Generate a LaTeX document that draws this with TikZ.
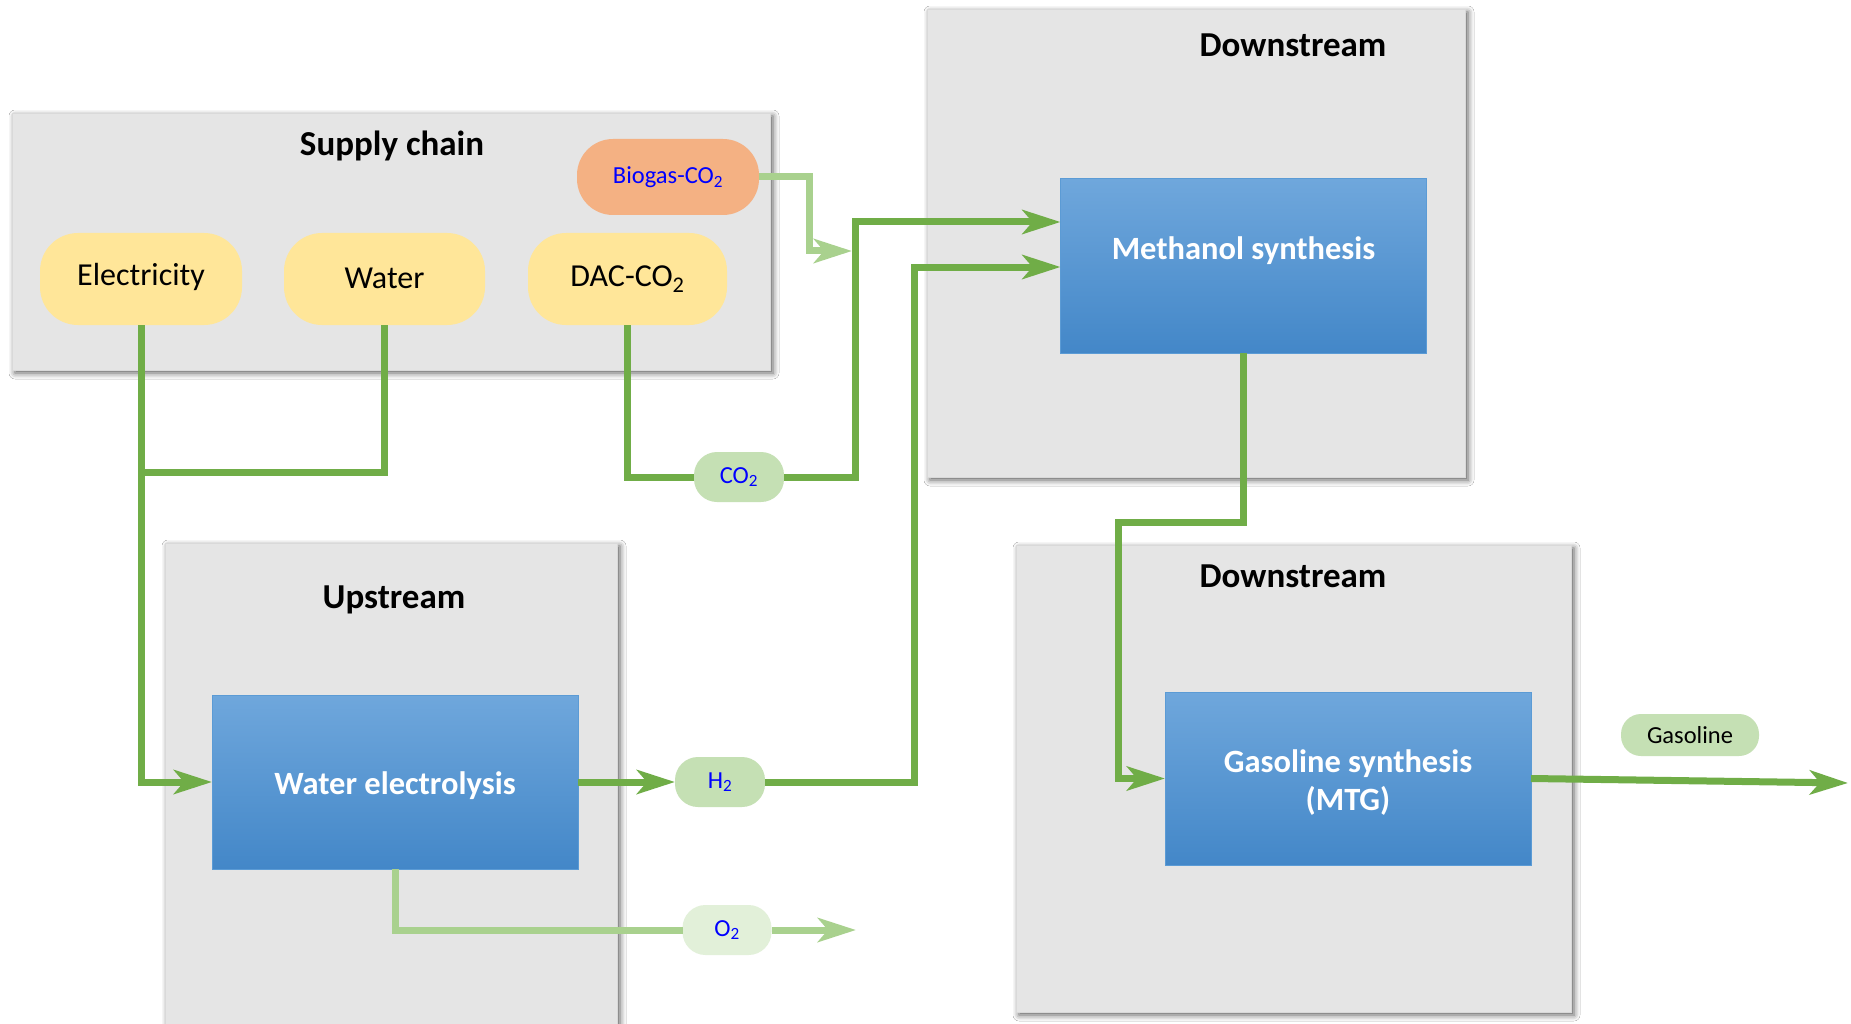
\documentclass[tikz,border=0pt]{standalone}
\usepackage{fontspec}
\setmainfont{Carlito}
\usetikzlibrary{arrows.meta,shadows.blur}
\definecolor{panel}{HTML}{E5E5E5}
\definecolor{pillY}{HTML}{FFE699}
\definecolor{pillO}{HTML}{F4B183}
\definecolor{pillG}{HTML}{C5E0B4}
\definecolor{pillL}{HTML}{E2F0D9}
\definecolor{flowD}{HTML}{70AD47}
\definecolor{flowL}{HTML}{A9D18E}
\definecolor{blueT}{HTML}{6FA7DC}
\definecolor{blueB}{HTML}{4387C8}
\definecolor{blueE}{HTML}{5B9BD5}
\definecolor{labblue}{HTML}{0000FF}
\begin{document}
\begin{tikzpicture}[x=1pt,y=-1pt,
  panelbox/.style={fill=panel, draw=gray!30, line width=0.6pt, inner sep=0pt, outer sep=0pt,
    blur shadow={shadow xshift=3pt, shadow yshift=-3pt, shadow blur radius=6pt, shadow opacity=65}},
  titletext/.style={font=\fontsize{35}{40}\selectfont\bfseries, text=black},
  bigpill/.style={fill=pillY, rounded corners=38pt, inner sep=0pt, outer sep=0pt,
    minimum height=92pt, font=\fontsize{32}{36}\selectfont},
  smallpill/.style={rounded corners=23pt, inner sep=0pt, outer sep=0pt,
    minimum width=90pt, minimum height=50pt, font=\fontsize{24.5}{28}\selectfont, text=labblue},
  procbox/.style={top color=blueT, bottom color=blueB, draw=blueE, line width=1pt,
    inner sep=0pt, outer sep=0pt, minimum width=366pt, minimum height=174pt},
  proctext/.style={text=white, align=center, inner sep=0pt, font=\fontsize{32.5}{38}\selectfont\bfseries},
  flow/.style={draw=flowD, line width=7pt},
  lightflow/.style={draw=flowL, line width=7pt},
  tip/.style={-{Stealth[length=38pt,width=24pt,inset=10pt]}}
]
\useasboundingbox (0,0) rectangle (1851,1024);
\fill[white] (0,0) rectangle (1851,1024);

% panels
\node[panelbox, minimum width=758pt, minimum height=257pt] (supply) at (391,241.5) {};
\node[panelbox, minimum width=538pt, minimum height=468pt] (downA) at (1196,243) {};
\node[panelbox, minimum width=555pt, minimum height=467pt] (downB) at (1293.5,778.5) {};
\node[panelbox, minimum width=452pt, minimum height=510pt] (up) at (391,798) {};

% titles
\node[titletext] (tsupply) at (392,146) {Supply chain};
\node[titletext] (tdownA) at (1293,45) {Downstream};
\node[titletext] (tdownB) at (1293,576) {Downstream};
\node[titletext] (tup) at (394,600) {Upstream};

% supply pills
\node[bigpill, minimum width=202pt] (elec) at (141,279) {\raisebox{9pt}{Electricity}};
\node[bigpill, minimum width=201pt] (water) at (384.5,279) {\raisebox{2pt}{Water}};
\node[bigpill, minimum width=199pt] (dac) at (627.5,279) {DAC-CO\textsubscript{2}};
\node[smallpill, fill=pillO, rounded corners=36pt, minimum width=182pt, minimum height=76pt] (bio) at (668,177) {Biogas-CO\textsubscript{2}};

% stream labels
\node[smallpill, fill=pillG] (co2) at (739,477) {CO\textsubscript{2}};
\node[smallpill, fill=pillG] (h2) at (720,782) {H\textsubscript{2}};
\node[smallpill, fill=pillL, minimum width=89pt] (o2) at (727,930) {O\textsubscript{2}};
\node[smallpill, fill=pillG, minimum width=138pt, minimum height=42pt, rounded corners=20pt, text=black] (gasl) at (1690,735) {Gasoline};

% process boxes
\node[procbox, label={[proctext, yshift=15.5pt]center:Methanol synthesis}] (meth) at (1243.5,266) {};
\node[procbox, label={[proctext, yshift=-4pt]center:Water electrolysis}] (wel) at (395,782) {};
\node[procbox, minimum height=173pt, label={[proctext, yshift=-4pt]center:{Gasoline synthesis\\(MTG)}}] (gas) at (1348,778.5) {};

% helper coordinates
\coordinate (junc) at (141,472);
\coordinate (co2top) at (855,222);
\coordinate (biobend) at (809,251);
\coordinate (bioend) at (852,251);
\coordinate (h2top) at (914,267);
\coordinate (o2end) at (856,930);
\coordinate (mbend) at (1118,522);
\coordinate (outend) at (1848,783);

% connectors
\draw[flow, tip] (elec.south) |- (wel.west);
\draw[flow] (water.south) |- (junc);
\draw[flow] (dac.south) |- (co2.west);
\draw[flow, tip] (co2.east) -| (co2top) -- (co2top -| meth.west);
\draw[lightflow, tip] (bio.east) -| (biobend) -- (bioend);
\draw[flow, tip] (wel.east) -- (h2.west);
\draw[flow, tip] (h2.east) -| (h2top) -- (h2top -| meth.west);
\draw[lightflow] (wel.south) |- (o2.west);
\draw[lightflow, tip] (o2.east) -- (o2end);
\draw[flow, tip] (meth.south) |- (mbend) |- (gas.west);
\draw[flow, tip] (gas.east) -- (outend);
\end{tikzpicture}
\end{document}
